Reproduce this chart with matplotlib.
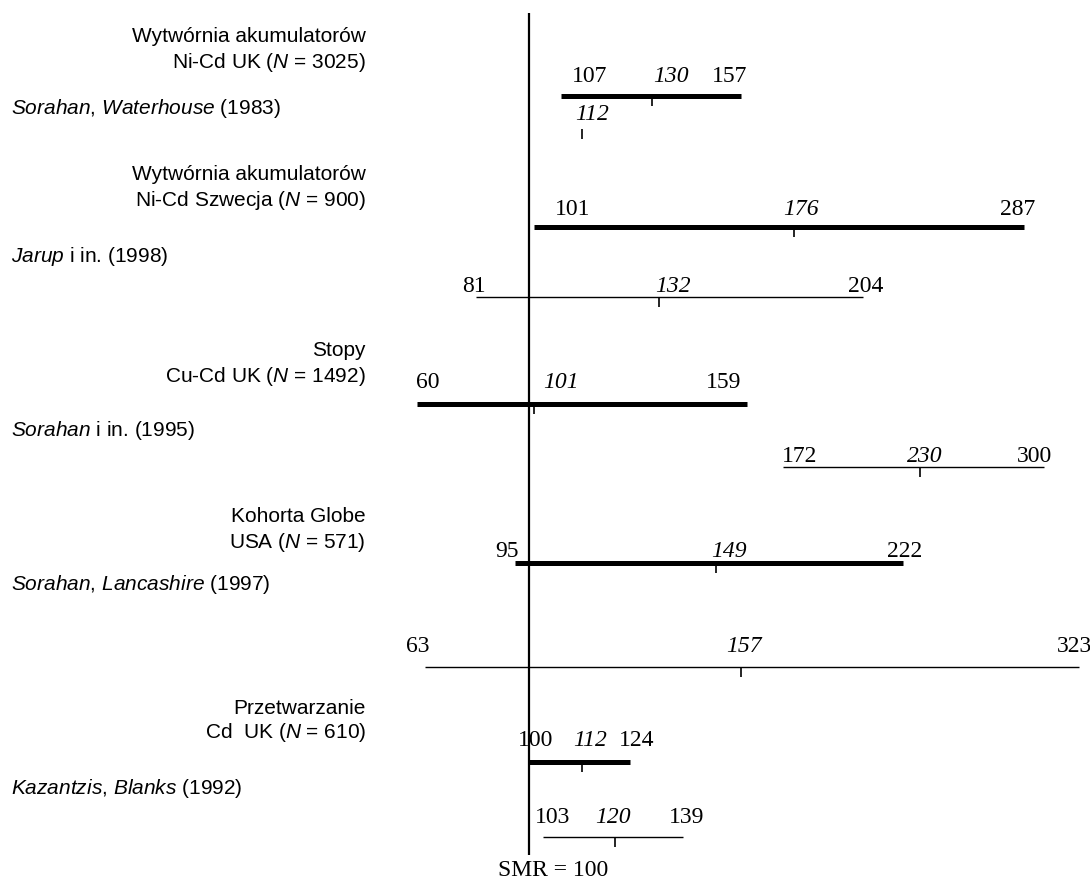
import numpy as np
import matplotlib.pyplot as plt

plt.rcParams['mathtext.fontset'] = 'custom'
plt.rcParams['mathtext.rm'] = 'Liberation Sans'
plt.rcParams['mathtext.it'] = 'Liberation Sans:italic'
plt.rcParams['mathtext.bf'] = 'Liberation Sans:bold'

# grupy (opis po lewej)
group_line1 = ['Wytwórnia akumulatorów', 'Wytwórnia akumulatorów', 'Stopy',
               'Kohorta Globe', 'Przetwarzanie']
group_line2 = ['Ni-Cd UK', 'Ni-Cd Szwecja', 'Cu-Cd UK', 'USA', 'Cd  UK']
group_n = [3025, 900, 1492, 571, 610]

# badania
authors = ['Sorahan, Waterhouse', 'Jarup', 'Sorahan', 'Sorahan, Lancashire', 'Kazantzis, Blanks']
author_suffix = ['', ' i in.', ' i in.', '', '']
years = [1983, 1998, 1995, 1997, 1992]

# SMR: dolna granica, wartosc, gorna granica (kolejne odcinki od gory)
smr_low = [107, 101, 81, 60, 172, 95, 63, 100, 103]
smr_point = [130, 176, 132, 101, 230, 149, 157, 112, 120]
smr_high = [157, 287, 204, 159, 300, 222, 323, 124, 139]
smr_extra = 112          # druga wartosc dla Sorahan, Waterhouse (bez przedzialu)

# ---- uklad (piksele) ----
row_y = [96, 227, 297, 404, 467, 563, 667, 762, 837]
thick = [True, True, False, True, False, True, False, True, False]
label_lift = [14, 12, 5, 16, 5, 6, 15, 16, 14]
low_ha = ['left', 'left', 'right', 'left', 'left', 'right', 'center', 'left', 'left']
low_dx = [11, 21, 10, -1, -1, 4, -8, -11, -8]
pt_ha = ['left', 'center', 'left', 'left', 'center', 'left', 'center', 'left', 'center']
pt_dx = [1, 7, -4, 9, 5, -5, 3, -9, -2]
high_ha = ['right', 'right', 'center', 'right', 'right', 'center', 'right', 'left', 'center']
high_dx = [7, 12, 2, -5, 8, 2, 13, -11, 3]
group_y = [(36, 62), (175, 201), (351, 376), (517, 542), (709, 733)]
study_y = [108, 256, 431, 584, 789]

SANS = 'Liberation Sans'
SERIF = 'Liberation Serif'
NUM_SIZE = 17

# skala: logarytmiczna powyzej 100, liniowa ponizej
K_LOG = 1080.0
K_LIN = 2.8


def fwd(v):
    v = np.asarray(v, dtype=float)
    return np.where(v >= 100, K_LOG * np.log10(np.maximum(v, 1e-9) / 100), K_LIN * (v - 100))


def inv(u):
    u = np.asarray(u, dtype=float)
    return np.where(u >= 0, 100 * 10 ** (u / K_LOG), 100 + u / K_LIN)


fig = plt.figure(figsize=(10.9, 8.8), dpi=100, facecolor='white')
ax = fig.add_axes([0, 0, 1, 1])
ax.set_xscale('function', functions=(fwd, inv))
ax.set_xlim(float(inv(-529)), float(inv(561)))
ax.set_ylim(880, 0)
ax.axis('off')

# linia SMR = 100
ax.vlines(100, 13, 855, color='black', lw=1.6)
ax.annotate('SMR = 100', (100, 870), xytext=(-31, 0), textcoords='offset pixels',
            ha='left', va='center', fontsize=NUM_SIZE, family=SERIF)

# odcinki
for i in range(len(smr_low)):
    y = row_y[i]
    ax.hlines(y, smr_low[i], smr_high[i], color='black',
              lw=3.6 if thick[i] else 1.0, capstyle='butt')
    ax.vlines(smr_point[i], y, y + 10, color='black', lw=1.2)
    ly = y - label_lift[i]
    ax.annotate(str(smr_low[i]), (smr_low[i], ly), xytext=(low_dx[i], 0),
                textcoords='offset pixels', ha=low_ha[i], va='baseline',
                fontsize=NUM_SIZE, family=SERIF)
    ax.annotate(str(smr_point[i]), (smr_point[i], ly), xytext=(pt_dx[i], 0),
                textcoords='offset pixels', ha=pt_ha[i], va='baseline',
                fontsize=NUM_SIZE, family=SERIF, style='italic')
    ax.annotate(str(smr_high[i]), (smr_high[i], ly), xytext=(high_dx[i], 0),
                textcoords='offset pixels', ha=high_ha[i], va='baseline',
                fontsize=NUM_SIZE, family=SERIF)

# dodatkowa wartosc 112 (pierwsze badanie)
ax.vlines(smr_extra, row_y[0] + 33, row_y[0] + 43, color='black', lw=1.2)
ax.annotate(str(smr_extra), (smr_extra, row_y[0] + 24), xytext=(10, 0),
            textcoords='offset pixels', ha='center', va='baseline',
            fontsize=NUM_SIZE, family=SERIF, style='italic')

# opisy po lewej
tr = ax.get_yaxis_transform()
for g in range(len(group_line1)):
    y1, y2 = group_y[g]
    ax.text(366 / 1090, y1, group_line1[g], transform=tr, ha='right', va='center',
            fontsize=15, family=SANS)
    ax.text(366 / 1090, y2, group_line2[g] + ' ($\\mathit{N}$ = %d)' % group_n[g],
            transform=tr, ha='right', va='center', fontsize=15, family=SANS)
    name = ', '.join('$\\mathit{%s}$' % part for part in authors[g].split(', '))
    ax.text(11 / 1090, study_y[g], name + author_suffix[g] + ' (%d)' % years[g],
            transform=tr, ha='left', va='center', fontsize=15, family=SANS)

fig.savefig('out.png', dpi=100, facecolor='white')
